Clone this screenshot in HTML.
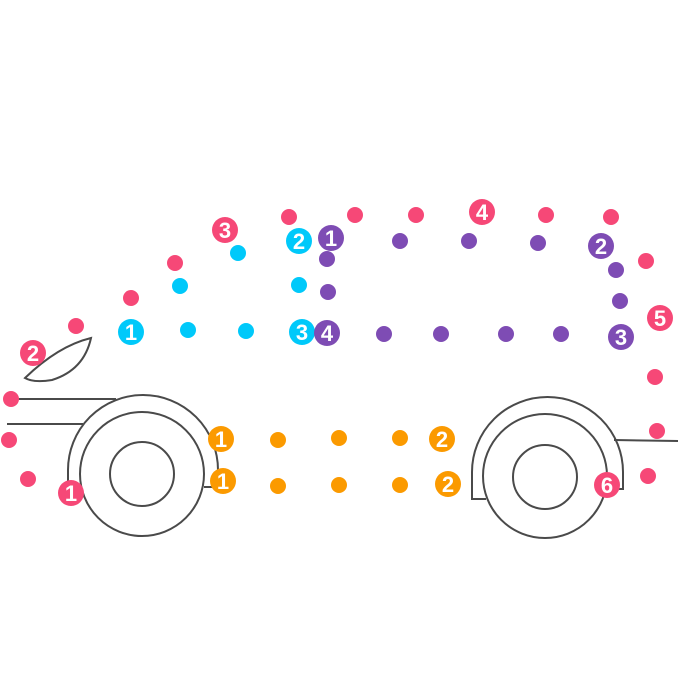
<!DOCTYPE html>
<html><head><meta charset="utf-8"><style>
html,body{margin:0;padding:0;background:#fff;}
svg{display:block;}
text{font-family:"Liberation Sans","DejaVu Sans",sans-serif;font-size:22px;font-weight:bold;fill:#fff;text-anchor:middle;}
</style></head><body>
<svg width="700" height="700" viewBox="0 0 700 700" xmlns="http://www.w3.org/2000/svg">
<g fill="none" stroke="#4a4a4a" stroke-width="2">
  <path d="M25,378 Q58,346 91,338 Q84,370 52,380 Q34,383 25,378 Z"/>
  <line x1="18" y1="399" x2="116" y2="399"/>
  <line x1="7" y1="424" x2="83" y2="424"/>
  <path d="M68,482 L68,470 A75,75 0 0 1 218,470 L218,487 L204,487"/>
  <circle cx="142" cy="474" r="62"/>
  <circle cx="142" cy="474" r="32"/>
  <path d="M486,499 L472,499 L472,472 A75.5,75 0 0 1 623,472 L623,489 L619,489"/>
  <line x1="614" y1="440" x2="678" y2="441"/>
  <circle cx="545" cy="476" r="62"/>
  <circle cx="545" cy="477" r="32"/>
</g>
<g fill="#f64877">
  <circle cx="289" cy="217" r="8"/><circle cx="355" cy="215" r="8"/><circle cx="416" cy="215" r="8"/>
  <circle cx="546" cy="215" r="8"/><circle cx="611" cy="217" r="8"/><circle cx="646" cy="261" r="8"/>
  <circle cx="655" cy="377" r="8"/><circle cx="657" cy="431" r="8"/><circle cx="648" cy="476" r="8"/>
  <circle cx="28" cy="479" r="8"/><circle cx="9" cy="440" r="8"/><circle cx="11" cy="399" r="8"/>
  <circle cx="76" cy="326" r="8"/><circle cx="131" cy="298" r="8"/><circle cx="175" cy="263" r="8"/>
  <circle cx="71" cy="493" r="13"/><circle cx="33" cy="353" r="13"/><circle cx="225" cy="230" r="13"/>
  <circle cx="482" cy="212" r="13"/><circle cx="660" cy="318" r="13"/><circle cx="607" cy="485" r="13"/>
</g>
<g fill="#00c9fa">
  <circle cx="188" cy="330" r="8"/><circle cx="246" cy="331" r="8"/><circle cx="299" cy="285" r="8"/>
  <circle cx="238" cy="253" r="8"/><circle cx="180" cy="286" r="8"/>
  <circle cx="131" cy="332" r="13"/><circle cx="302" cy="332" r="13"/><circle cx="299" cy="241" r="13"/>
</g>
<g fill="#7e4cb4">
  <circle cx="327" cy="259" r="8"/><circle cx="328" cy="292" r="8"/>
  <circle cx="400" cy="241" r="8"/><circle cx="469" cy="241" r="8"/><circle cx="538" cy="243" r="8"/>
  <circle cx="616" cy="270" r="8"/><circle cx="620" cy="301" r="8"/>
  <circle cx="384" cy="334" r="8"/><circle cx="441" cy="334" r="8"/><circle cx="506" cy="334" r="8"/><circle cx="561" cy="334" r="8"/>
  <circle cx="331" cy="238" r="13"/><circle cx="327" cy="333" r="13"/><circle cx="601" cy="246" r="13"/><circle cx="621" cy="337" r="13"/>
</g>
<g fill="#fb9a00">
  <circle cx="278" cy="440" r="8"/><circle cx="339" cy="438" r="8"/><circle cx="400" cy="438" r="8"/>
  <circle cx="278" cy="486" r="8"/><circle cx="339" cy="485" r="8"/><circle cx="400" cy="485" r="8"/>
  <circle cx="221" cy="439" r="13"/><circle cx="223" cy="481" r="13"/><circle cx="442" cy="439" r="13"/><circle cx="448" cy="484" r="13"/>
</g>
<g>
  <text x="71" y="501">1</text><text x="33" y="361">2</text><text x="225" y="238">3</text>
  <text x="482" y="220">4</text><text x="660" y="326">5</text><text x="607" y="493">6</text>
  <text x="131" y="340">1</text><text x="299" y="249">2</text><text x="302" y="340">3</text>
  <text x="331" y="246">1</text><text x="601" y="254">2</text><text x="621" y="345">3</text><text x="327" y="341">4</text>
  <text x="221" y="447">1</text><text x="223" y="489">1</text><text x="442" y="447">2</text><text x="448" y="492">2</text>
</g>
</svg>
</body></html>
